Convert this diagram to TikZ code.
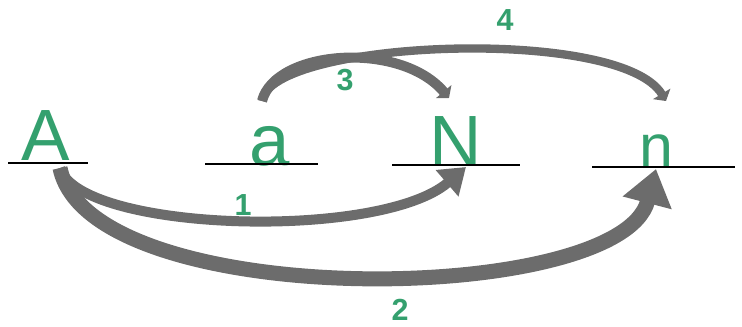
\documentclass[tikz,border=0pt]{standalone}
\usepackage{fontspec}
\setmainfont{Liberation Sans}
\usetikzlibrary{arrows.meta}
\definecolor{inkgreen}{RGB}{52,160,110}
\definecolor{pencilgray}{RGB}{108,108,108}

\begin{document}
\begin{tikzpicture}[x=0.03cm, y=-0.03cm,
    letter/.style={text=inkgreen, font=\fontsize{62}{62}\selectfont, anchor=base, inner sep=0pt},
    num/.style={text=inkgreen, font=\fontsize{26}{26}\selectfont\bfseries, inner sep=0pt},
    rule/.style={line width=2pt},
    arr/.style={draw=pencilgray, line width=#1}]
  \useasboundingbox (0,0) rectangle (742,326);
  % Letters on their lines
  \node[letter] (A) at (46,160) {A};
  \node[letter] (a) at (270,165) {a};
  \node[letter] (N) at (456,166) {N};
  \node[letter, font=\fontsize{52}{52}\selectfont] (n) at (656,167) {n};
  \draw[rule] (8,163) -- (88,163);
  \draw[rule] (205,164) -- (318,164);
  \draw[rule] (392,165) -- (520,165);
  \draw[rule] (592,167) -- (735,167);
  % Arrow ends
  \coordinate (Afoot) at (60,168);
  \coordinate (Nfoot) at (466,167);
  \coordinate (nfoot) at (656,169);
  \coordinate (atop) at (262,101);
  \coordinate (Ntop) at (449,98);
  \coordinate (ntop) at (666,101);
  % Lower arrows
  \draw[arr=0.3cm, -{Triangle[length=0.75cm,width=1cm]}] (Afoot) .. controls (80,232) and (380,241) .. (Nfoot);
  \draw[arr=0.45cm, -{Triangle[length=1.05cm,width=1.45cm]}] (Afoot) .. controls (90,313) and (620,307) .. (nfoot);
  % Upper arrows
  \draw[arr=0.3cm, -{Triangle[length=0.25cm,width=0.6cm]}] (atop) .. controls (275,50) and (400,40) .. (Ntop);
  \draw[arr=0.25cm, -{Triangle[length=0.25cm,width=0.6cm]}] (atop) .. controls (270,40) and (620,25) .. (ntop);
  % Labels
  \node[num] (one) at (243,205) {1};
  \node[num] (two) at (400,310) {2};
  \node[num] (three) at (345,80) {3};
  \node[num] (four) at (505,20) {4};
\end{tikzpicture}
\end{document}
